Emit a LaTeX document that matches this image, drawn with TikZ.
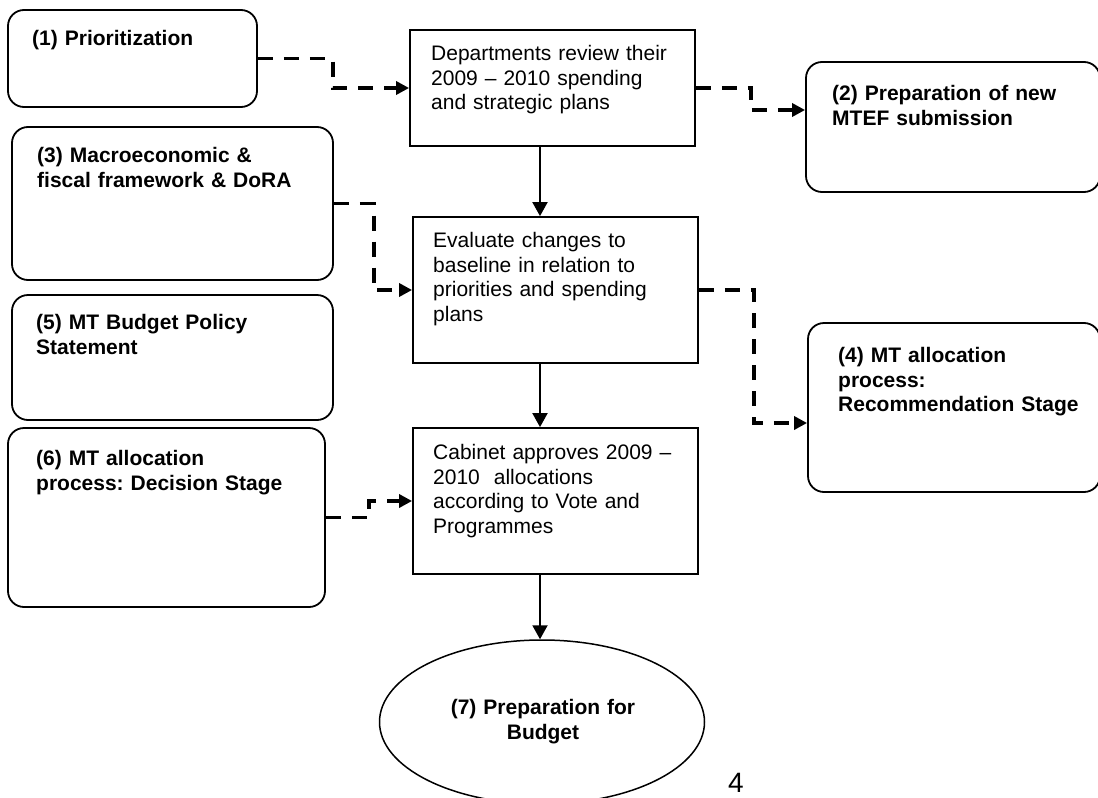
\documentclass[tikz,border=0pt]{standalone}
\usepackage{fontspec}
\setmainfont{Liberation Sans}
\usetikzlibrary{arrows.meta,shapes.geometric}
\frenchspacing
\begin{document}
\begin{tikzpicture}[x=1pt,y=-1pt,
  rbox/.style={draw,line width=1.8pt,rounded corners=16pt,inner sep=0pt},
  sbox/.style={draw,line width=1.8pt,inner sep=0pt},
  btxt/.style={font=\fontsize{21}{24.5}\selectfont\bfseries,inner sep=0pt,align=left,text width=300pt,anchor=base west},
  rtxt/.style={font=\fontsize{21}{24.5}\selectfont,inner sep=0pt,align=left,text width=300pt,anchor=base west},
  dconn/.style={line width=3.5pt,dash pattern=on 15pt off 11pt,-{Triangle[length=13pt,width=13pt]}},
  sconn/.style={line width=2pt,-{Triangle[length=14pt,width=15pt]}}]
\useasboundingbox (0,0) rectangle (1098,798);
\clip (0,0) rectangle (1098,798);

% boxes
\node[rbox,minimum width=249pt,minimum height=97pt] (b1) at (132.5,58.5) {};
\node[sbox,minimum width=285pt,minimum height=116pt] (D1) at (552.5,88) {};
\node[rbox,minimum width=294pt,minimum height=130pt] (b2) at (953,127) {};
\node[rbox,minimum width=321pt,minimum height=153pt] (b3) at (172.5,203.5) {};
\node[sbox,minimum width=285pt,minimum height=146pt] (E) at (555.5,290) {};
\node[rbox,minimum width=321pt,minimum height=125pt] (b5) at (172.5,357.5) {};
\node[rbox,minimum width=292pt,minimum height=169pt] (b4) at (954,407.5) {};
\node[rbox,minimum width=317pt,minimum height=179pt] (b6) at (166.5,517.5) {};
\node[sbox,minimum width=285pt,minimum height=146pt] (C) at (555.5,501) {};
\node[draw,ellipse,line width=1.5pt,inner sep=0pt,minimum width=325pt,minimum height=164pt] (ell) at (542,722) {};

% texts
\node[btxt] (t1) at (32,45.5) {(1) Prioritization};
\node[rtxt] (tD1) at (431,60.5) {Departments review their\\2009 -- 2010 spending\\and strategic plans};
\node[btxt] (t2) at (832,100.5) {(2) Preparation of new\\MTEF submission};
\node[btxt] (t3) at (37,162.5) {(3) Macroeconomic \&\\fiscal framework \& DoRA};
\node[rtxt] (tE) at (433,247.5) {Evaluate changes to\\baseline in relation to\\priorities and spending\\plans};
\node[btxt] (t5) at (36,329.5) {(5) MT Budget Policy\\Statement};
\node[btxt] (t4) at (838,362.5) {(4) MT allocation\\process:\\Recommendation Stage};
\node[btxt] (t6) at (36,465.5) {(6) MT allocation\\process: Decision Stage};
\node[rtxt] (tC) at (433,459.5) {Cabinet approves 2009 --\\2010\ \ allocations\\according to Vote and\\Programmes};
\node[font=\fontsize{21}{24.5}\selectfont\bfseries,inner sep=0pt,align=center,text width=260pt,anchor=base] (t7) at (543,714.5) {(7) Preparation for\\Budget};
\node[font=\fontsize{28}{32}\selectfont,inner sep=0pt,anchor=base] (pg) at (736,792) {4};

% dashed connectors
\draw[dconn] (b1.east) -- ++(75,0) |- (D1.west);
\draw[dconn] (D1.east) -- ++(55,0) |- ([yshift=17pt]b2.west);
\draw[dconn] (b3.east) -- ++(40,0) |- (E.west);
\draw[dconn] (E.east) -- ++(55,0) |- ([yshift=-15.5pt]b4.west);
\draw[dconn] (b6.east) -- ++(43,0) |- (C.west);

% solid connectors
\draw[sconn] (D1.south -| 540,0) -- (E.north -| 540,0);
\draw[sconn] (E.south -| 540,0) -- (C.north -| 540,0);
\draw[sconn] (C.south -| 540,0) -- (ell.north -| 540,0);
\end{tikzpicture}
\end{document}
